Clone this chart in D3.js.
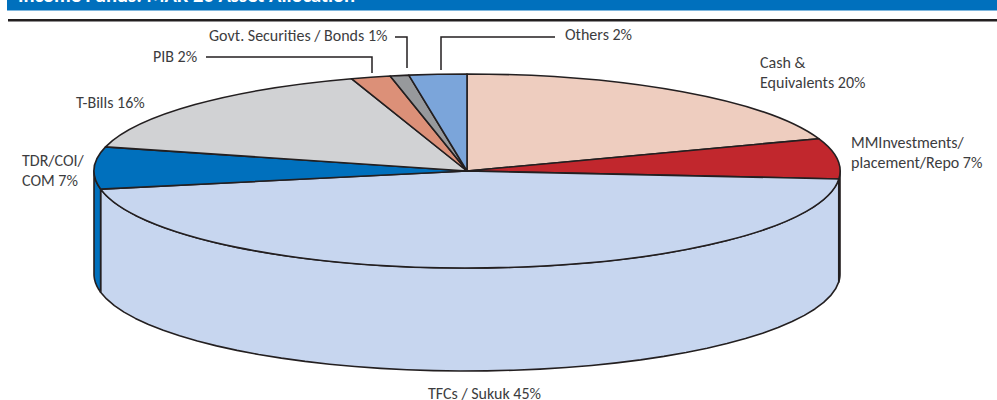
<!DOCTYPE html>
<html>
<head>
<meta charset="utf-8">
<script src="https://cdn.jsdelivr.net/npm/d3@7"></script>
<style>
  html, body { margin: 0; padding: 0; background: #fff; overflow: hidden; }
  text { font-family: Carlito, "Open Sans", "Noto Sans", sans-serif; font-size: 16px; fill: #3c3c3e; }
  .edge { stroke: #231f20; stroke-width: 1.6; fill: none; vector-effect: non-scaling-stroke; }
</style>
</head>
<body>
<div id="chart"></div>
<script>
const slices = ["Cash", "MM", "TFC", "TDR", "TBills", "PIB", "Govt", "Others"];
const shares = [19.6, 6.7, 45.7, 7.0, 16.0, 1.7, 0.8, 2.5];
const colors = ["#eecdbf", "#c1272d", "#c7d6ef", "#0070bd", "#d1d2d4", "#dc9078", "#97999c", "#7ba5da"];
const titleText = "Income Funds: MAR 20 Asset Allocation";

const width = 997, height = 400;
const cx = 467, cy = 171, rx = 373, ry = 97, depth = 103;

const svg = d3.select("#chart").append("svg")
    .attr("width", width)
    .attr("height", height);

// header band, title is cut by the top of the page
svg.append("rect").attr("x", 7).attr("y", 0).attr("width", 990).attr("height", 10.5).attr("fill", "#0070bd");
svg.append("text").attr("x", 18).attr("y", 2)
    .style("font-size", "20.5px").style("font-weight", "bold").style("fill", "#fff")
    .text(titleText);
svg.append("rect").attr("x", 8).attr("y", 19).attr("width", 989).attr("height", 2.5).attr("fill", "#231f20");

const pie = d3.pie().sort(null).value(d => d);
const arcs = pie(shares);

function px(a) { return cx + rx * Math.sin(a); }
function py(a, dy) { return cy - ry * Math.cos(a) + dy; }

// wall of the cylinder between two angles, only the front half is visible
function wall(a0, a1) {
  const p = d3.path();
  p.moveTo(px(a0), py(a0, 0));
  p.lineTo(px(a0), py(a0, depth));
  const n = 40;
  for (let i = 1; i <= n; i++) {
    const a = a0 + (a1 - a0) * i / n;
    p.lineTo(px(a), py(a, depth));
  }
  p.lineTo(px(a1), py(a1, 0));
  for (let i = n - 1; i >= 0; i--) {
    const a = a0 + (a1 - a0) * i / n;
    p.lineTo(px(a), py(a, 0));
  }
  p.closePath();
  return p.toString();
}

const walls = svg.append("g");
arcs.forEach(d => {
  const a0 = Math.max(d.startAngle, Math.PI / 2);
  const a1 = Math.min(d.endAngle, Math.PI * 1.5);
  if (a1 <= a0) return;
  walls.append("path")
      .attr("d", wall(a0, a1))
      .attr("fill", colors[d.index])
      .attr("stroke", "#231f20")
      .attr("stroke-width", 1.6)
      .attr("stroke-linejoin", "round");
});

// top face: unit-radius arcs squashed to the ellipse
const arc = d3.arc().innerRadius(0).outerRadius(1);
svg.append("g")
    .attr("transform", `translate(${cx},${cy}) scale(${rx},${ry})`)
    .selectAll("path")
    .data(arcs)
    .join("path")
    .attr("class", "edge")
    .attr("d", arc)
    .style("fill", d => colors[d.index])
    .attr("stroke-linejoin", "round");

// labels and their leader lines
const labels = [
  { lines: ["Cash &", "Equivalents 20%"], x: 760, y: 68 },
  { lines: ["MMInvestments/", "placement/Repo 7%"], x: 851, y: 148 },
  { lines: ["TFCs / Sukuk 45%"], x: 428, y: 399 },
  { lines: ["TDR/COI/", "COM 7%"], x: 22, y: 166 },
  { lines: ["T-Bills 16%"], x: 76, y: 108 },
  { lines: ["PIB 2%"], x: 153, y: 62 },
  { lines: ["Govt. Securities / Bonds 1%"], x: 209, y: 41 },
  { lines: ["Others 2%"], x: 565, y: 40 }
];
const leaders = [
  [[206, 57], [372, 57], [372, 73]],
  [[395, 37], [407, 37], [407, 68]],
  [[555, 37], [441, 37], [441, 70]]
];

labels.forEach(l => {
  const t = svg.append("text").attr("x", l.x).attr("y", l.y);
  l.lines.forEach((s, i) => {
    t.append("tspan").attr("x", l.x).attr("dy", i ? 20 : 0).text(s);
  });
});

const leader = d3.line();
svg.append("g").selectAll("path")
    .data(leaders)
    .join("path")
    .attr("d", leader)
    .attr("fill", "none")
    .attr("stroke", "#231f20")
    .attr("stroke-width", 1.5);
</script>
</body>
</html>
